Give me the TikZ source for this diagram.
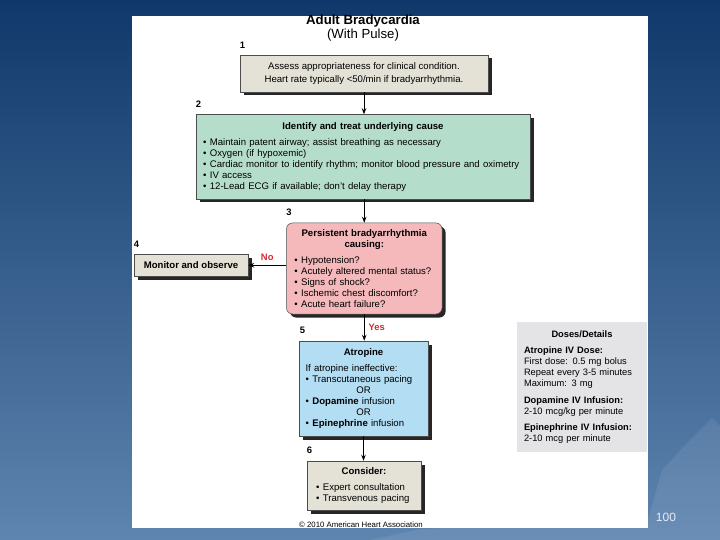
\documentclass[tikz,border=0pt]{standalone}
\usepackage{fontspec}
\setmainfont{Liberation Sans}
\usetikzlibrary{arrows.meta,shadows,positioning}

\definecolor{slidetop}{HTML}{10386A}
\definecolor{slidebot}{HTML}{5E85AF}
\definecolor{assessfill}{HTML}{E4E2D6}
\definecolor{treatfill}{HTML}{B5DDCB}
\definecolor{persistfill}{HTML}{F5B9BC}
\definecolor{atropfill}{HTML}{B2DDF3}
\definecolor{dosefill}{HTML}{E4E4E6}
\definecolor{answerred}{HTML}{D7282F}
\definecolor{pagenum}{HTML}{E6EDF6}

\hyphenpenalty=10000
\exhyphenpenalty=10000
\newcommand{\bul}{\textbullet\hspace{3.5pt}}

\tikzset{
  flowbox/.style={draw=black!70, line width=0.5pt, inner sep=0pt,
    drop shadow={shadow xshift=3.5pt, shadow yshift=-3.5pt, fill=black!85, opacity=1},
    font=\fontsize{9.6}{11}\selectfont},
  num/.style={inner sep=0pt, font=\fontsize{9.4}{10}\selectfont\bfseries},
  answer/.style={inner sep=0pt, text=answerred, font=\fontsize{9.4}{10}\selectfont\bfseries},
}

\begin{document}
\begin{tikzpicture}[x=1pt, y=-1pt, >={Stealth[length=6pt,width=4.5pt]}]
    \useasboundingbox (0,0) rectangle (720,540);
    % slide background
    \shade[top color=slidetop, bottom color=slidebot] (0,0) rectangle (720,540);
    \fill[white, opacity=0.08] (370,540) -- (420,529) -- (648,520) -- (662,470)
      -- (690,440) -- (712,418) -- (720,426) -- (720,540) -- cycle;
    \fill[white] (132,16) rectangle (648,527.5);

    \node[align=center, font=\fontsize{13.2}{13.8}\selectfont] (title) at (363,28)
      {{\bfseries Adult Bradycardia}\\(With Pulse)};

    \node[flowbox, fill=assessfill, font=\fontsize{9.6}{13}\selectfont,
      minimum width=248pt, minimum height=37pt, align=center] (assess) at (364,73.5)
      {Assess appropriateness for clinical condition.\\Heart rate typically <50/min if bradyarrhythmia.};
    \node[flowbox, fill=treatfill, minimum width=334pt, minimum height=84.5pt,
      text width=320pt, align=left] (treat) at (363,156.75)
      {{\centering\bfseries Identify and treat underlying cause\par}\vspace{5pt}
       \bul Maintain patent airway; assist breathing as necessary\\
       \bul Oxygen (if hypoxemic)\\
       \bul Cardiac monitor to identify rhythm; monitor blood pressure and oximetry\\
       \bul IV access\\
       \bul 12-Lead ECG if available; don't delay therapy};
    \node[flowbox, fill=persistfill, rounded corners=6pt, minimum width=155.5pt,
      minimum height=91pt, text width=140pt, align=left] (persist) at (364.25,268.5)
      {{\centering\bfseries Persistent bradyarrhythmia\\causing:\par}\vspace{5pt}
       \bul Hypotension?\\
       \bul Acutely altered mental status?\\
       \bul Signs of shock?\\
       \bul Ischemic chest discomfort?\\
       \bul Acute heart failure?};
    \node[flowbox, fill=assessfill, minimum width=114pt, minimum height=21.5pt,
      font=\fontsize{9.6}{11}\selectfont\bfseries] (monitor) at (191,265.25)
      {Monitor and observe};
    \node[flowbox, fill=atropfill, minimum width=129pt, minimum height=95pt,
      text width=116pt, align=left] (atropine) at (363.5,388.5)
      {{\centering\bfseries Atropine\par}\vspace{5pt}
       If atropine ineffective:\\
       \bul Transcutaneous pacing\par
       {\centering OR\par}
       \bul\textbf{Dopamine} infusion\par
       {\centering OR\par}
       \bul\textbf{Epinephrine} infusion};
    \node[flowbox, fill=assessfill, minimum width=114pt, minimum height=49pt,
      text width=96pt, align=left] (consider) at (364,485.5)
      {{\centering\bfseries Consider:\par}\vspace{5pt}
       \bul Expert consultation\\
       \bul Transvenous pacing};
    \node[fill=dosefill, inner sep=0pt, minimum width=130pt, minimum height=130pt,
      text width=116pt, align=left, font=\fontsize{9.3}{11}\selectfont] (doses) at (582,387)
      {{\centering\bfseries Doses/Details\par}\vspace{5.5pt}
       {\bfseries Atropine IV Dose:}\\
       First dose: 0.5 mg bolus\\
       Repeat every 3-5 minutes\\
       Maximum: 3 mg\par\vspace{5.5pt}
       {\bfseries Dopamine IV Infusion:}\\
       2-10 mcg/kg per minute\par\vspace{5.5pt}
       {\bfseries Epinephrine IV Infusion:}\\
       2-10 mcg per minute};

    % step numbers
    \node[num, above right=6.5pt and 0pt of assess.north west] (n1) {1};
    \node[num, above right=6.5pt and 0pt of treat.north west] (n2) {2};
    \node[num, above right=6.5pt and 0pt of persist.north west] (n3) {3};
    \node[num, above right=6.5pt and 0pt of monitor.north west] (n4) {4};
    \node[num, above right=6.5pt and 1pt of atropine.north west] (n5) {5};
    \node[num, above right=6.5pt and 0pt of consider.north west] (n6) {6};

    \draw [->, line width=0.8pt] (assess.south) -- (assess.south |- treat.north);
    \draw [->, line width=0.8pt] (treat.south -| persist.north) -- (persist.north);
    \draw [->, line width=0.8pt] (persist.west |- monitor.east) --
      node[answer, above=4pt] (no) {No} (monitor.east);
    \draw [->, line width=0.8pt] (persist.south) --
      node[answer, right=4pt] (yes) {Yes} (persist.south |- atropine.north);
    \draw [->, line width=0.8pt] (atropine.south) -- (atropine.south |- consider.north);

    \node[font=\fontsize{7.8}{8}\selectfont, inner sep=0pt] (copy) at (361,524.5)
      {© 2010 American Heart Association};
    \node[text=pagenum, font=\fontsize{12}{12}\selectfont, inner sep=0pt] (page) at (666,517.5) {100};
  \end{tikzpicture}
\end{document}
